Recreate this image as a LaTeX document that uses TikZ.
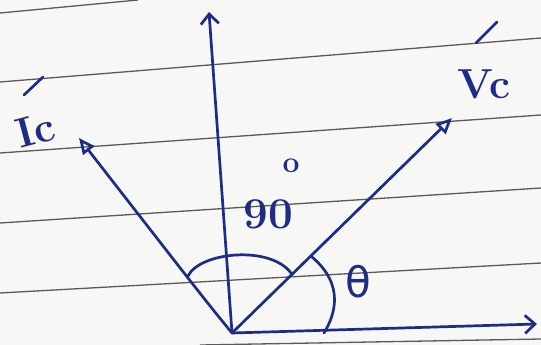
\documentclass[tikz,border=0pt]{standalone}
\usepackage{fontspec}
\setmainfont{Latin Modern Roman}
\newfontfamily\grfont{DejaVu Sans}
\usetikzlibrary{arrows.meta}
\definecolor{ink}{HTML}{1E2C86}
\definecolor{rule}{HTML}{5A5A5A}
\definecolor{paper}{HTML}{F7F7F5}
\begin{document}
\begin{tikzpicture}[x=1pt,y=-1pt,
  ruled/.style={rule, line width=1.3pt},
  phasor/.style={ink, line width=2.7pt, line cap=round, line join=round},
  barb/.style={-{Straight Barb[length=10pt,width=18pt,line width=2.7pt]}},
  tri/.style={-{Triangle[open,length=16pt,width=14pt,line width=2.7pt]}},
  lbl/.style={ink, inner sep=0pt, font=\fontsize{42}{42}\selectfont\bfseries}]
\useasboundingbox (0,0) rectangle (541,345);
\fill[paper] (0,0) rectangle (541,345);
% ruled paper lines
\draw[ruled] (0,13) -- (138,0);
\draw[ruled] (0,82) -- (541,38);
\draw[ruled] (0,153) -- (541,115);
\draw[ruled] (0,223) -- (541,188);
\draw[ruled] (0,293) -- (541,263);
\draw[ruled] (200,345) -- (541,339);
% phasors
\coordinate (O) at (232,333);
\coordinate (Y) at (209,12);
\coordinate (X) at (537,324);
\coordinate (V) at (452,118);
\coordinate (I) at (79,138);
\draw[phasor,barb] (O) -- (Y);
\draw[phasor,barb] (O) -- (X);
\draw[phasor,tri] (O) -- (V);
\draw[phasor,tri] (O) .. controls (205,300) .. (I);
% angle arcs
\draw[phasor] (188,276) .. controls (200,252) and (270,245) .. (291,273);
\draw[phasor] (312,257) .. controls (345,285) and (335,315) .. (324,333);
% labels
\node[lbl, rotate=15] (ic) at (35,130) {Ic};
\draw[phasor] (24,95) -- (43,77);
\node[lbl] (vc) at (484,84) {Vc};
\draw[phasor] (476,43) -- (497,22);
\node[lbl, font=\fontsize{44}{44}\selectfont\bfseries] (ninety) at (268,214) {90};
\node[lbl, font=\fontsize{30}{30}\selectfont\bfseries] (deg) at (291,166) {o};
\node[lbl, font=\fontsize{42}{42}\selectfont\grfont] (theta) at (358,282) {θ};
\end{tikzpicture}
\end{document}
